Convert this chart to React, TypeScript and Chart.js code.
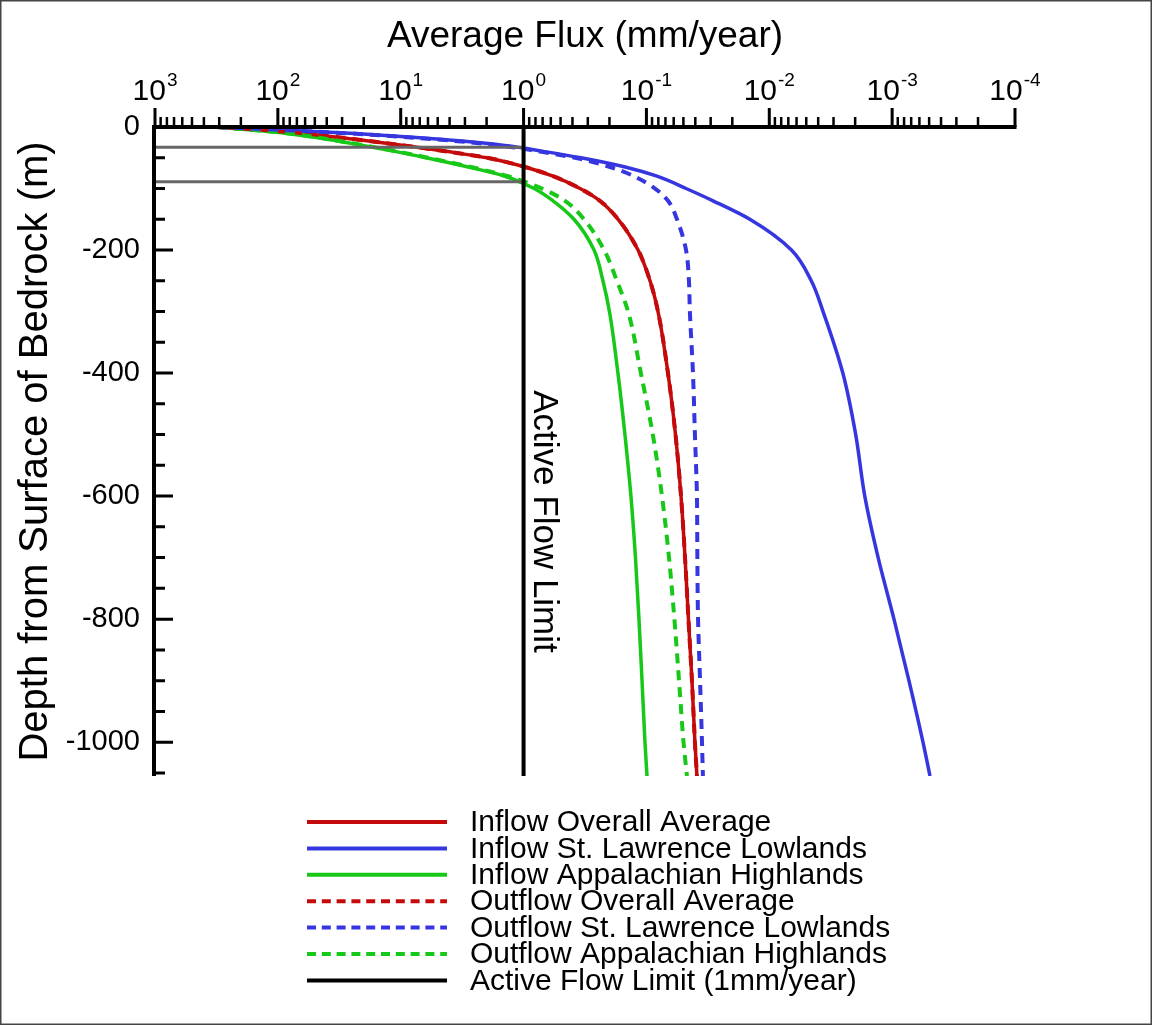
import React, { useEffect, useRef } from 'react';
import { Chart, registerables } from 'chart.js';

Chart.register(...registerables);

const FONT = "'Liberation Sans', Arial, Helvetica, sans-serif";

// Depth below bedrock surface (m)
const depths = [0, -10, -20, -30, -40, -50, -65, -80, -100, -120, -150, -200, -250, -300, -400, -500, -600, -700, -800, -900, -1000, -1055];

// Average flux (mm/year) read at each depth
const inflowOverall = [313, 66, 23.6, 9.4, 4.12, 1.99, 0.973, 0.576, 0.347, 0.239, 0.17, 0.117, 0.0935, 0.0805, 0.0668, 0.058, 0.0523, 0.0485, 0.0455, 0.0426, 0.0403, 0.0388];
const inflowStLawrence = [313, 25.9, 4.79, 1.42, 0.67, 0.341, 0.149, 0.082, 0.0476, 0.0287, 0.0144, 0.0066, 0.00455, 0.00365, 0.00252, 0.00198, 0.00167, 0.0013, 0.000966, 0.00073, 0.000561, 0.000492];
const inflowAppalachian = [313, 87.5, 39.8, 20.3, 10.9, 6.22, 2.83, 1.42, 0.822, 0.576, 0.389, 0.267, 0.226, 0.2, 0.1706, 0.1496, 0.1337, 0.1228, 0.115, 0.1086, 0.1028, 0.0989];
const outflowOverall = [313, 66, 23.6, 9.4, 4.12, 1.99, 0.973, 0.576, 0.347, 0.239, 0.17, 0.117, 0.0935, 0.0805, 0.0668, 0.058, 0.0523, 0.0485, 0.0455, 0.0426, 0.0403, 0.0388];
const outflowStLawrence = [313, 28.4, 5.26, 1.56, 0.735, 0.381, 0.198, 0.126, 0.0851, 0.0667, 0.0564, 0.0476, 0.0451, 0.0443, 0.0418, 0.0403, 0.0388, 0.0385, 0.038, 0.0366, 0.0353, 0.0347];
const outflowAppalachian = [313, 84.3, 38.4, 19.5, 10.5, 6.0, 2.68, 1.34, 0.708, 0.46, 0.322, 0.221, 0.174, 0.141, 0.111, 0.0887, 0.0747, 0.0655, 0.0592, 0.0543, 0.0499, 0.0468];

// Active flow limit (1 mm/year)
const limitFlux = [1, 1];
const limitDepth = [0, -1055];

// Depths where the regional inflow curves cross the active flow limit
const crossingFlux = [1000, 1];
const crossingDepthStLawrence = [-33, -33];
const crossingDepthAppalachian = [-89, -89];

// Axes
const xMin = 0.0001;
const xMax = 1000;
const yMin = -1055;
const yMax = 0;
const xMajorTicks = [1000, 100, 10, 1, 0.1, 0.01, 0.001, 0.0001];
const xTickExponents = ['3', '2', '1', '0', '-1', '-2', '-3', '-4'];
const yMajorTicks = [0, -200, -400, -600, -800, -1000];
const yMinorTicks = [-50, -100, -150, -250, -300, -350, -450, -500, -550, -650, -700, -750, -850, -900, -950, -1050];

const RED = '#c40a0a';
const BLUE = '#3636e0';
const GREEN = '#18c818';

const pts = (xs: number[], ys: number[]) => xs.map((x, i) => ({ x, y: ys[i] }));

const decorPlugin = {
  id: 'decor',
  beforeDraw(chart: any) {
    const { ctx, width, height } = chart;
    ctx.save();
    ctx.fillStyle = '#ffffff';
    ctx.fillRect(0, 0, width, height);
    ctx.strokeStyle = '#444';
    ctx.lineWidth = 1.5;
    ctx.strokeRect(0.75, 0.75, width - 1.5, height - 1.5);
    ctx.restore();
  },
  afterDatasetsDraw(chart: any) {
    const { ctx, chartArea, scales } = chart;
    const { left, top, right, bottom } = chartArea;
    const x = scales.x;
    const y = scales.y;
    ctx.save();
    ctx.strokeStyle = '#000';
    ctx.lineCap = 'butt';
    // axis lines
    ctx.lineWidth = 4;
    ctx.beginPath();
    ctx.moveTo(left - 2, top);
    ctx.lineTo(right + 1.5, top);
    ctx.moveTo(left - 1, top - 2);
    ctx.lineTo(left - 1, bottom);
    ctx.stroke();
    // x ticks (outward, up)
    ctx.lineWidth = 3;
    ctx.beginPath();
    xMajorTicks.forEach((v) => {
      const px = x.getPixelForValue(v);
      ctx.moveTo(px, top);
      ctx.lineTo(px, top - 19);
    });
    ctx.stroke();
    ctx.lineWidth = 2.5;
    ctx.beginPath();
    xMajorTicks.slice(1).forEach((v) => {
      for (let m = 2; m <= 9; m++) {
        const px = x.getPixelForValue(v * m);
        ctx.moveTo(px, top);
        ctx.lineTo(px, top - 10);
      }
    });
    ctx.stroke();
    // y ticks (inward)
    ctx.lineWidth = 3;
    ctx.beginPath();
    yMajorTicks.forEach((v) => {
      const py = y.getPixelForValue(v);
      ctx.moveTo(left - 1, py);
      ctx.lineTo(left + 18, py);
    });
    ctx.stroke();
    ctx.beginPath();
    yMinorTicks.forEach((v) => {
      const py = y.getPixelForValue(v);
      ctx.moveTo(left - 1, py);
      ctx.lineTo(left + 10, py);
    });
    ctx.stroke();
    // x tick labels with superscript exponents
    ctx.fillStyle = '#000';
    ctx.textBaseline = 'alphabetic';
    ctx.textAlign = 'left';
    xMajorTicks.forEach((v, i) => {
      const px = x.getPixelForValue(v);
      ctx.font = `30px ${FONT}`;
      const wBase = ctx.measureText('10').width;
      ctx.font = `19px ${FONT}`;
      const wExp = ctx.measureText(xTickExponents[i]).width;
      const x0 = px - (wBase + wExp + 1) / 2;
      ctx.font = `30px ${FONT}`;
      ctx.fillText('10', x0, 100);
      ctx.font = `19px ${FONT}`;
      ctx.fillText(xTickExponents[i], x0 + wBase + 1, 86);
    });
    // Active flow limit annotation
    ctx.save();
    ctx.translate(x.getPixelForValue(1) + 20, (top + bottom) / 2 + 70);
    ctx.rotate(Math.PI / 2);
    ctx.font = `35px ${FONT}`;
    ctx.textAlign = 'center';
    ctx.textBaseline = 'middle';
    ctx.fillText('Active Flow Limit', 0, 0);
    ctx.restore();
    ctx.restore();
  },
  afterDraw(chart: any) {
    const { ctx } = chart;
    const items = chart.data.datasets.filter((d: any) => d.label);
    ctx.save();
    items.forEach((d: any, i: number) => {
      const yy = 822 + i * 26.4;
      ctx.strokeStyle = d.borderColor;
      ctx.lineWidth = 4;
      ctx.setLineDash(d.borderDash && d.borderDash.length ? [9, 5.8] : []);
      ctx.beginPath();
      ctx.moveTo(307, yy);
      ctx.lineTo(447, yy);
      ctx.stroke();
      ctx.setLineDash([]);
      ctx.fillStyle = '#000';
      ctx.font = `30px ${FONT}`;
      ctx.textAlign = 'left';
      ctx.textBaseline = 'middle';
      ctx.fillText(d.label, 470, yy + 1);
    });
    ctx.restore();
  },
};

export default function App() {
  const canvasRef = useRef<HTMLCanvasElement | null>(null);

  useEffect(() => {
    if (!canvasRef.current) return;
    const solid = (label: string, color: string, xs: number[], order: number) => ({
      label,
      data: pts(xs, depths),
      borderColor: color,
      backgroundColor: color,
      borderWidth: 3.5,
      pointRadius: 0,
      cubicInterpolationMode: 'monotone',
      fill: false,
      order,
    });
    const dashed = (label: string, color: string, xs: number[], order: number) => ({
      ...solid(label, color, xs, order),
      borderWidth: 4,
      borderDash: [10, 7],
    });
    const chart = new Chart(canvasRef.current, {
      type: 'line',
      data: {
        datasets: [
          solid('Inflow Overall Average', RED, inflowOverall, 3),
          solid('Inflow St. Lawrence Lowlands', BLUE, inflowStLawrence, 3),
          solid('Inflow Appalachian Highlands', GREEN, inflowAppalachian, 3),
          dashed('Outflow Overall Average', RED, outflowOverall, 4),
          dashed('Outflow St. Lawrence Lowlands', BLUE, outflowStLawrence, 2),
          dashed('Outflow Appalachian Highlands', GREEN, outflowAppalachian, 2),
          {
            label: 'Active Flow Limit (1mm/year)',
            data: pts(limitFlux, limitDepth),
            borderColor: '#000',
            borderWidth: 4,
            pointRadius: 0,
            tension: 0,
            order: 0,
          },
          {
            label: '',
            data: pts(crossingFlux, crossingDepthStLawrence),
            borderColor: '#666666',
            borderWidth: 3,
            pointRadius: 0,
            tension: 0,
            order: 1,
          },
          {
            label: '',
            data: pts(crossingFlux, crossingDepthAppalachian),
            borderColor: '#666666',
            borderWidth: 3,
            pointRadius: 0,
            tension: 0,
            order: 1,
          },
        ],
      } as any,
      options: {
        indexAxis: 'y',
        responsive: false,
        animation: false,
        events: [],
        layout: { padding: { left: 0, top: 0, right: 137, bottom: 249 } },
        plugins: {
          legend: { display: false },
          tooltip: { enabled: false },
        },
        scales: {
          x: {
            type: 'logarithmic',
            position: 'top',
            reverse: true,
            min: xMin,
            max: xMax,
            grid: { display: false, drawTicks: false },
            border: { display: false },
            ticks: { display: false },
            title: {
              display: true,
              text: 'Average Flux (mm/year)',
              color: '#000',
              font: { family: FONT, size: 37 },
              padding: { top: 15, bottom: 0 },
            },
            afterFit: (s: any) => {
              s.height = 127;
            },
          },
          y: {
            type: 'linear',
            position: 'left',
            min: yMin,
            max: yMax,
            grid: { display: false, drawTicks: false },
            border: { display: false },
            afterBuildTicks: (s: any) => {
              s.ticks = yMajorTicks.map((v) => ({ value: v }));
            },
            ticks: {
              color: '#000',
              padding: 15,
              font: { family: FONT, size: 29 },
              callback: (v: any) => String(v),
            },
            title: {
              display: true,
              text: 'Depth from Surface of Bedrock (m)',
              color: '#000',
              font: { family: FONT, size: 40 },
              padding: { top: 12, bottom: 0 },
            },
            afterFit: (s: any) => {
              s.width = 155;
            },
          },
        },
      } as any,
      plugins: [decorPlugin],
    });
    return () => chart.destroy();
  }, []);

  return (
    <div style={{ position: 'absolute', left: 0, top: 0, width: 1152, height: 1025, background: '#fff' }}>
      <canvas ref={canvasRef} width={1152} height={1025} style={{ display: 'block', width: 1152, height: 1025 }} />
    </div>
  );
}
